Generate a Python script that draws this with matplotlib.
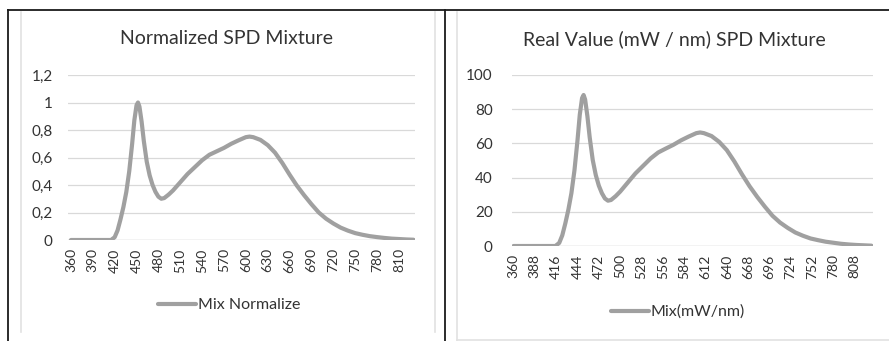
import matplotlib
matplotlib.use("Agg")
import matplotlib.pyplot as plt
from matplotlib.lines import Line2D

plt.rcParams['font.family'] = ['Lato', 'DejaVu Sans']

# spectral samples (nm) and the two SPD series
wavelength = [360, 380, 400, 410, 415, 420, 424, 428, 432, 436, 440, 444, 447, 450,
              452, 454, 457, 460, 464, 468, 472, 476, 480, 484, 488, 494, 500, 510,
              520, 530, 540, 550, 560, 570, 580, 590, 600, 605, 610, 620, 630, 640,
              650, 660, 670, 680, 690, 700, 710, 720, 730, 740, 750, 760, 770, 780,
              790, 800, 810, 820, 830]
mix_normalized = [0, 0, 0, 0, 0, 0.02, 0.07, 0.15, 0.24, 0.35, 0.5, 0.7, 0.87, 0.98,
                  1.0, 0.97, 0.86, 0.72, 0.57, 0.47, 0.40, 0.35, 0.315, 0.30, 0.305, 0.33,
                  0.36, 0.42, 0.48, 0.53, 0.58, 0.62, 0.645, 0.67, 0.70, 0.725, 0.748, 0.752,
                  0.748, 0.728, 0.69, 0.635, 0.56, 0.475, 0.395, 0.325, 0.26, 0.20, 0.155,
                  0.12, 0.09, 0.068, 0.05, 0.038, 0.028, 0.021, 0.015, 0.01, 0.007, 0.004,
                  0.002]
mix_mw = [0, 0, 0, 0, 0, 1.8, 6.2, 13.2, 21.2, 30.9, 44.2, 61.8, 76.8, 86.5,
          88.3, 85.7, 75.9, 63.6, 50.3, 41.5, 35.3, 30.9, 27.8, 26.5, 26.9, 29.1,
          31.8, 37.1, 42.4, 46.8, 51.2, 54.7, 57.0, 59.2, 61.8, 64.0, 66.0, 66.4,
          66.0, 64.3, 60.9, 56.1, 49.4, 41.9, 34.9, 28.7, 23.0, 17.7, 13.7,
          10.6, 7.9, 6.0, 4.4, 3.4, 2.5, 1.9, 1.3, 0.9, 0.6, 0.4,
          0.2]

xticks_left = list(range(360, 811, 30))
xticks_right = list(range(360, 809, 28))
yticks_left = [0, 0.2, 0.4, 0.6, 0.8, 1.0, 1.2]
ylabels_left = ["0", "0,2", "0,4", "0,6", "0,8", "1", "1,2"]
yticks_right = [0, 20, 40, 60, 80, 100]

W, H = 889, 341
fig = plt.figure(figsize=(W / 100, H / 100), dpi=100)
fig.patch.set_facecolor("white")

LINE = "#a0a0a0"
GRID = "#d9d9d9"
TXT = "#333333"


def box(px_left, px_top, px_right, px_bottom):
    return [px_left / W, 1 - px_bottom / H, (px_right - px_left) / W, (px_bottom - px_top) / H]


def spd_panel(ax, y, ylim, yticks, ylabels, xticks, xlim, label, title, title_x, leg_pos, ypad):
    ax.plot(wavelength, y, color=LINE, lw=3.0, solid_capstyle="round",
            solid_joinstyle="round", label=label)
    ax.set_xlim(*xlim)
    ax.set_ylim(*ylim)
    ax.set_yticks(yticks)
    ax.set_yticklabels(ylabels, fontsize=11, color=TXT)
    ax.set_xticks(xticks)
    ax.set_xticklabels([str(t) for t in xticks], rotation=90, fontsize=10, color=TXT)
    ax.tick_params(length=0)
    ax.tick_params(axis="y", pad=ypad)
    ax.tick_params(axis="x", pad=6)
    ax.grid(axis="y", color=GRID, lw=0.9)
    ax.set_axisbelow(True)
    for s in ax.spines.values():
        s.set_visible(False)
    ax.axhline(ylim[0], color=GRID, lw=1.0, zorder=0)
    fig.text(title_x / W, 1 - 39 / H, title, ha="center", va="center", fontsize=14, color=TXT)
    leg = ax.legend(loc="center", bbox_to_anchor=leg_pos, bbox_transform=fig.transFigure,
                    frameon=False, fontsize=11.5, handlelength=2.4, handletextpad=0.1,
                    borderpad=0)
    for t in leg.get_texts():
        t.set_color(TXT)


ax1 = fig.add_axes(box(68, 75, 415, 240))
spd_panel(ax1, mix_normalized, (0, 1.2), yticks_left, ylabels_left, xticks_left,
          (356, 832), "Mix Normalize", "Normalized SPD Mixture", 226,
          (229 / W, 1 - 305 / H), 11)

ax2 = fig.add_axes(box(512, 75, 873, 246))
spd_panel(ax2, mix_mw, (0, 100), yticks_right, [str(t) for t in yticks_right], xticks_right,
          (358, 832), "Mix(mW/nm)", "Real Value (mW / nm) SPD Mixture", 674,
          (678 / W, 1 - 312 / H), 14)

# frame lines around and between the two charts
def fline(x0, y0, x1, y1, color, lw):
    fig.add_artist(Line2D([x0 / W, x1 / W], [1 - y0 / H, 1 - y1 / H], color=color, lw=lw,
                          transform=fig.transFigure))

fline(21, 12, 21, 332, "#e2e2e2", 1.2)
fline(435, 12, 435, 332, "#e2e2e2", 1.2)
fline(457, 12, 457, 341, "#e2e2e2", 1.2)
fline(457, 339.5, 889, 339.5, "#e2e2e2", 1.2)
fline(8, 9.5, 889, 9.5, "#1a1a1a", 1.3)
fline(8, 9.5, 8, 341, "#1a1a1a", 1.3)
fline(444.5, 9.5, 444.5, 341, "#1a1a1a", 1.3)

fig.savefig("out.png", dpi=100)
